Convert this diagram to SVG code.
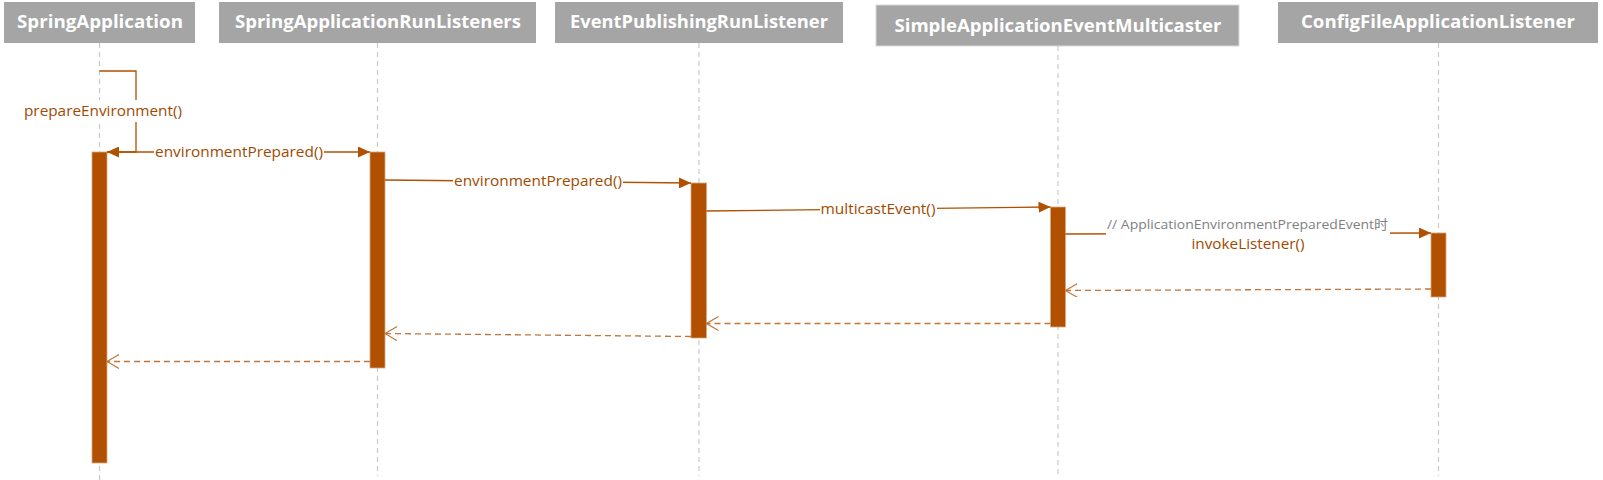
<svg xmlns="http://www.w3.org/2000/svg" width="1603" height="480" viewBox="0 0 1603 480">
<style>
.hdr{fill:#A5A5A5}
.hdrt{font-family:"Open Sans","Liberation Sans",sans-serif;font-weight:bold;font-size:18px;fill:#FFFFFF;text-anchor:middle}
.life{stroke:#C8C8C8;stroke-width:1.2;stroke-dasharray:5,4;fill:none}
.act{fill:#B05000;stroke:#D9A77C;stroke-width:0.8}
.msg{stroke:#B05000;stroke-width:1.3;fill:none}
.ret{stroke:#C0763A;stroke-width:1.3;stroke-dasharray:6,4;fill:none}
.lbl{font-family:"Open Sans","Liberation Sans",sans-serif;font-size:14px;fill:#A04A00;text-anchor:middle}
.cmt{font-family:"Open Sans","Liberation Sans","Noto Sans CJK SC",sans-serif;font-size:13px;fill:#7F7F7F;text-anchor:middle}
.bg{fill:#FFFFFF}
</style>
<defs>
<marker id="solid" markerWidth="12" markerHeight="11" refX="12" refY="5.5" orient="auto" markerUnits="userSpaceOnUse">
<path d="M0,0 L12,5.5 L0,11 Z" fill="#B05000"/>
</marker>
<marker id="open" markerWidth="13" markerHeight="15" refX="12" refY="7" orient="auto" markerUnits="userSpaceOnUse">
<path d="M0,0 L12,7 L0,14" fill="none" stroke="#C0763A" stroke-width="1.2"/>
</marker>
</defs>

<g id="node-SpringApplication">
<rect class="hdr" x="4" y="2" width="191" height="41"/>
<text class="hdrt" x="100" y="28" textLength="166" lengthAdjust="spacingAndGlyphs">SpringApplication</text>
<line class="life" x1="99.5" y1="43" x2="99.5" y2="480"/>
<rect class="act" x="92" y="152" width="15" height="311"/>
</g>

<g id="node-SpringApplicationRunListeners">
<rect class="hdr" x="219" y="2" width="317" height="41"/>
<text class="hdrt" x="378" y="28" textLength="286" lengthAdjust="spacingAndGlyphs">SpringApplicationRunListeners</text>
<line class="life" x1="377.5" y1="43" x2="377.5" y2="476"/>
<rect class="act" x="370" y="152" width="15" height="216"/>
</g>

<g id="node-EventPublishingRunListener">
<rect class="hdr" x="555" y="2" width="288" height="41"/>
<text class="hdrt" x="699" y="28" textLength="258" lengthAdjust="spacingAndGlyphs">EventPublishingRunListener</text>
<line class="life" x1="699" y1="43" x2="699" y2="476"/>
<rect class="act" x="691" y="183" width="15.5" height="155"/>
</g>

<g id="node-SimpleApplicationEventMulticaster">
<rect class="hdr" x="876" y="5" width="363" height="41" stroke="#DADADA" stroke-width="1"/>
<text class="hdrt" x="1058" y="32" textLength="327" lengthAdjust="spacingAndGlyphs">SimpleApplicationEventMulticaster</text>
<line class="life" x1="1058" y1="46" x2="1058" y2="476"/>
<rect class="act" x="1050.5" y="207" width="15" height="120"/>
</g>

<g id="node-ConfigFileApplicationListener">
<rect class="hdr" x="1278" y="2" width="320" height="41"/>
<text class="hdrt" x="1438" y="28" textLength="274" lengthAdjust="spacingAndGlyphs">ConfigFileApplicationListener</text>
<line class="life" x1="1438.5" y1="43" x2="1438.5" y2="476"/>
<rect class="act" x="1431" y="233" width="15" height="64"/>
</g>

<g id="connectors">
<!-- self call prepareEnvironment() -->
<polyline class="msg" points="99.5,71 136,71 136,152 107,152" marker-end="url(#solid)"/>
<rect class="bg" x="22" y="100" width="162" height="22"/>
<text class="lbl" x="103" y="116" textLength="158" lengthAdjust="spacingAndGlyphs">prepareEnvironment()</text>

<!-- environmentPrepared() 1 -->
<line class="msg" x1="107" y1="152" x2="370" y2="152" marker-end="url(#solid)"/>
<rect class="bg" x="154" y="143" width="170" height="18"/>
<text class="lbl" x="239" y="157" textLength="168" lengthAdjust="spacingAndGlyphs">environmentPrepared()</text>

<!-- environmentPrepared() 2 -->
<line class="msg" x1="385" y1="180" x2="691" y2="183" marker-end="url(#solid)"/>
<rect class="bg" x="453" y="172" width="170" height="18"/>
<text class="lbl" x="538" y="186" textLength="168" lengthAdjust="spacingAndGlyphs">environmentPrepared()</text>

<!-- multicastEvent() -->
<line class="msg" x1="706.5" y1="211" x2="1050.5" y2="207" marker-end="url(#solid)"/>
<rect class="bg" x="820" y="200" width="117" height="18"/>
<text class="lbl" x="878" y="214" textLength="115" lengthAdjust="spacingAndGlyphs">multicastEvent()</text>

<!-- invokeListener() -->
<line class="msg" x1="1065.5" y1="234" x2="1431" y2="233" marker-end="url(#solid)"/>
<rect class="bg" x="1106" y="214" width="284" height="40"/>
<text class="cmt" x="1247.5" y="229" textLength="281" lengthAdjust="spacingAndGlyphs">// ApplicationEnvironmentPreparedEvent时</text>
<text class="lbl" x="1248" y="249" textLength="113" lengthAdjust="spacingAndGlyphs">invokeListener()</text>

<!-- returns -->
<line class="ret" x1="1431" y1="289" x2="1065.5" y2="290.5" marker-end="url(#open)"/>
<line class="ret" x1="1050.5" y1="323.5" x2="706.5" y2="323.5" marker-end="url(#open)"/>
<line class="ret" x1="691" y1="336.5" x2="385" y2="333.5" marker-end="url(#open)"/>
<line class="ret" x1="370" y1="361.5" x2="107" y2="361.5" marker-end="url(#open)"/>
</g>
</svg>
